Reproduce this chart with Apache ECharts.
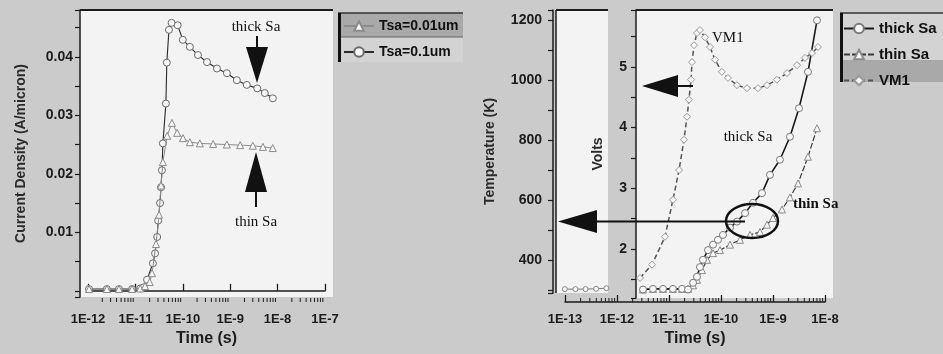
<!DOCTYPE html>
<html><head><meta charset="utf-8">
<script src="https://cdn.jsdelivr.net/npm/echarts@6/dist/echarts.min.js"></script>
<style>html,body{margin:0;padding:0;background:#cbcbcb;}#c{width:943px;height:354px;}</style>
</head><body><div id="c"></div>
<script>
// ---------- Panel 1: current density vs time ----------
const p1ThickT = [1.05e-12, 2.5e-12, 4.5e-12, 8.5e-12, 1.26e-11, 1.5e-11, 1.76e-11, 2.34e-11, 2.6e-11, 2.88e-11, 3.02e-11, 3.31e-11, 3.47e-11, 3.63e-11, 3.8e-11, 4.4e-11, 4.6e-11, 5.1e-11, 5.8e-11, 7.8e-11, 1.0e-10, 1.41e-10, 2.09e-10, 3.24e-10, 5.25e-10, 8.51e-10, 1.38e-9, 2.24e-9, 3.72e-9, 5.37e-9, 7.94e-9];
const p1ThickJ = [0.0003, 0.0003, 0.0003, 0.0003, 0.0004, 0.0006, 0.0019, 0.0047, 0.0064, 0.0092, 0.0120, 0.0150, 0.0177, 0.0206, 0.0252, 0.0320, 0.0390, 0.0446, 0.0458, 0.0454, 0.0429, 0.0417, 0.0403, 0.0391, 0.0380, 0.0372, 0.0360, 0.0352, 0.0346, 0.0338, 0.0329];
const p1ThinT = [1.05e-12, 2.5e-12, 4.5e-12, 8.5e-12, 1.26e-11, 1.6e-11, 2.0e-11, 2.24e-11, 2.72e-11, 3.16e-11, 3.47e-11, 3.8e-11, 4.68e-11, 5.9e-11, 7.6e-11, 1.01e-10, 1.41e-10, 2.29e-10, 4.37e-10, 8.5e-10, 1.62e-9, 3.0e-9, 4.9e-9, 7.9e-9];
const p1ThinJ = [0.0003, 0.0003, 0.0003, 0.0003, 0.0004, 0.0008, 0.0015, 0.0030, 0.0080, 0.0130, 0.0180, 0.0220, 0.0265, 0.0287, 0.0270, 0.0261, 0.0254, 0.0252, 0.0251, 0.0250, 0.0249, 0.0248, 0.0246, 0.0244];

// ---------- Panel 2: temperature / volts vs time ----------
const tempT = [1.0e-13, 1.6e-13, 2.5e-13, 4.0e-13, 6.3e-13, 1.0e-12];
const tempK = [303, 303, 303, 304, 306, 310];
const thickT = [3.16e-12, 4.92e-12, 7.67e-12, 1.19e-11, 1.78e-11, 2.32e-11, 2.9e-11, 3.45e-11, 3.94e-11, 4.5e-11, 5.62e-11, 7.02e-11, 8.75e-11, 1.09e-10, 1.49e-10, 2.03e-10, 2.9e-10, 4.12e-10, 6.14e-10, 8.75e-10, 1.36e-9, 2.12e-9, 3.16e-9, 4.71e-9, 7.02e-9];
const thickV = [1.33, 1.34, 1.34, 1.34, 1.34, 1.33, 1.44, 1.54, 1.70, 1.82, 1.98, 2.07, 2.15, 2.23, 2.35, 2.45, 2.59, 2.76, 2.92, 3.22, 3.47, 3.85, 4.32, 4.92, 5.77];
const thinT = [3.16e-12, 4.92e-12, 7.67e-12, 1.19e-11, 1.78e-11, 2.32e-11, 2.9e-11, 3.45e-11, 4.31e-11, 5.38e-11, 7.02e-11, 9.57e-11, 1.49e-10, 2.32e-10, 3.61e-10, 5.62e-10, 7.67e-10, 1.0e-9, 1.49e-9, 2.12e-9, 3.03e-9, 4.71e-9, 7.02e-9];
const thinV = [1.33, 1.34, 1.34, 1.34, 1.34, 1.34, 1.40, 1.49, 1.65, 1.82, 1.93, 1.98, 2.07, 2.15, 2.23, 2.28, 2.40, 2.51, 2.65, 2.85, 3.08, 3.52, 3.99];
const vm1T = [2.77e-12, 4.71e-12, 8.37e-12, 1.19e-11, 1.56e-11, 1.94e-11, 2.22e-11, 2.42e-11, 2.65e-11, 2.77e-11, 3.03e-11, 3.45e-11, 3.94e-11, 4.92e-11, 6.14e-11, 7.67e-11, 1.04e-10, 1.36e-10, 2.03e-10, 3.16e-10, 5.15e-10, 7.67e-10, 1.19e-9, 1.86e-9, 2.9e-9, 4.12e-9, 5.62e-9, 7.33e-9];
const vm1V = [1.52, 1.74, 2.20, 2.81, 3.30, 3.80, 4.18, 4.46, 4.79, 5.08, 5.36, 5.56, 5.61, 5.49, 5.33, 5.12, 4.92, 4.82, 4.70, 4.65, 4.65, 4.70, 4.79, 4.90, 5.03, 5.15, 5.23, 5.33];

const legend1 = ['Tsa=0.01um', 'Tsa=0.1um'];
const legend2 = ['thick Sa', 'thin Sa', 'VM1'];
const p1Decades = [-12, -11, -10, -9, -8];
const p2Decades = [-13, -12, -11, -10, -9];
const minorMultipliers = [2, 3, 4, 5, 6, 7, 8, 9];

const pair = (xs, ys) => xs.map((x, i) => [x, ys[i]]);
const minorTicks = decs => decs.flatMap(d => minorMultipliers.map(m => [m * Math.pow(10, d)]));
const F = '"Liberation Sans", Arial, sans-serif';
const S = '"Liberation Serif", "Times New Roman", serif';
const expLabel = v => '1E' + Math.round(Math.log10(v));
const INK = '#1c1c1c';

const chart = echarts.init(document.getElementById('c'));

const timeAxis = (grid, min, max, offset, gap) => ({
  type: 'log', logBase: 10, gridIndex: grid, min: min, max: max, offset: offset,
  axisLine: { lineStyle: { color: INK, width: 1.5 } },
  axisTick: { inside: true, length: 7, lineStyle: { color: INK, width: 1.3 } },
  minorTick: { show: false },
  axisLabel: { formatter: expLabel, fontFamily: F, fontWeight: 'bold', fontSize: 13, color: INK, margin: 11 },
  splitLine: { show: false },
  name: 'Time (s)', nameLocation: 'middle', nameGap: gap,
  nameTextStyle: { fontFamily: F, fontWeight: 'bold', fontSize: 16, color: INK }
});
const valAxis = (grid, min, max, split, offset, fmt, name, gap, margin) => ({
  type: 'value', gridIndex: grid, min: min, max: max, splitNumber: split, offset: offset,
  axisLine: { show: true, lineStyle: { color: INK, width: 1.5 } },
  axisTick: { show: true, length: 5, lineStyle: { color: INK, width: 1.2 } },
  axisLabel: { formatter: fmt, fontFamily: F, fontWeight: 'bold', fontSize: 14, color: INK, margin: margin },
  splitLine: { show: false },
  name: name, nameLocation: 'middle', nameGap: gap,
  nameTextStyle: { fontFamily: F, fontWeight: 'bold', fontSize: 14, color: '#2a2a2a' }
});
const isMult = (v, m) => Math.abs(v / m - Math.round(v / m)) < 1e-6;

// log-spaced minor ticks drawn through the axis scale
const minorTickSeries = (xi, yi, yBase, offset) => ({
  type: 'custom', xAxisIndex: xi, yAxisIndex: yi, data: minorTicks(xi === 0 ? p1Decades : p2Decades),
  clip: false, silent: true, z: 5,
  renderItem: (params, api) => {
    const p = api.coord([api.value(0), yBase]);
    const y = p[1] + offset;
    return { type: 'line', shape: { x1: p[0], y1: y, x2: p[0], y2: y - 4 }, style: { stroke: INK, lineWidth: 1 } };
  }
});

const option = {
  animation: false,
  backgroundColor: '#cbcbcb',
  grid: [
    { left: 88, right: 618, top: 10, bottom: 57 },
    { left: 556, right: 335, top: 10, bottom: 61 },
    { left: 636, right: 110, top: 10, bottom: 56 },
    { left: 565, right: 118, top: 10, bottom: 52 }
  ],
  xAxis: [
    timeAxis(0, 1e-12, 1e-7, 5, 27),
    { type: 'log', gridIndex: 1, min: Math.pow(10, -13.17), max: Math.pow(10, -12.17), show: false },
    { type: 'log', gridIndex: 2, min: Math.pow(10, -11.635), max: Math.pow(10, -7.846), show: false },
    timeAxis(3, 1e-13, 1e-8, 0, 29)
  ],
  yAxis: [
    valAxis(0, -0.00106, 0.048, 10, 8, v => (v > 0.005 && isMult(v, 0.01)) ? v.toFixed(2) : '', 'Current Density (A/micron)', 52, 7),
    valAxis(1, 290, 1233, 9, 3, v => (v >= 400 && isMult(v, 200)) ? String(Math.round(v)) : '', 'Temperature (K)', 56, 11),
    valAxis(2, 1.19, 5.94, 10, 0, v => (v >= 1.9 && isMult(v, 1)) ? String(Math.round(v)) : '', 'Volts', 31, 9),
    { type: 'value', gridIndex: 3, min: 0, max: 1, show: false }
  ],
  legend: [
    { data: legend1, orient: 'vertical', left: 343, top: 19, itemWidth: 30, itemHeight: 12, itemGap: 12, padding: 0, selectedMode: false,
      textStyle: { fontFamily: F, fontWeight: 'bold', fontSize: 14, color: '#111' } },
    { data: legend2, orient: 'vertical', left: 843, top: 21, itemWidth: 30, itemHeight: 12, itemGap: 11, padding: 0, selectedMode: false,
      textStyle: { fontFamily: F, fontWeight: 'bold', fontSize: 15, color: '#111' } }
  ],
  series: [
    { name: 'Tsa=0.1um', type: 'line', xAxisIndex: 0, yAxisIndex: 0, data: pair(p1ThickT, p1ThickJ),
      symbol: 'circle', symbolSize: 7, lineStyle: { color: '#2a2a2a', width: 1.1 },
      itemStyle: { color: '#f6f6f6', borderColor: '#6a6a6a', borderWidth: 1 }, z: 3 },
    { name: 'Tsa=0.01um', type: 'line', xAxisIndex: 0, yAxisIndex: 0, data: pair(p1ThinT, p1ThinJ),
      symbol: 'triangle', symbolSize: 7, lineStyle: { color: '#8c8c8c', width: 1 },
      itemStyle: { color: '#f6f6f6', borderColor: '#8c8c8c', borderWidth: 1 }, z: 4 },
    { name: 'Temperature', type: 'line', xAxisIndex: 1, yAxisIndex: 1, data: pair(tempT, tempK),
      symbol: 'circle', symbolSize: 5, lineStyle: { color: '#777', width: 1 },
      itemStyle: { color: '#f6f6f6', borderColor: '#888', borderWidth: 1 } },
    { name: 'VM1', type: 'line', xAxisIndex: 2, yAxisIndex: 2, data: pair(vm1T, vm1V),
      symbol: 'diamond', symbolSize: 7, lineStyle: { color: '#555', width: 1.5, type: [5, 3] },
      itemStyle: { color: '#f6f6f6', borderColor: '#9a9a9a', borderWidth: 1 } },
    { name: 'thin Sa', type: 'line', xAxisIndex: 2, yAxisIndex: 2, data: pair(thinT, thinV),
      symbol: 'triangle', symbolSize: 7, lineStyle: { color: '#3a3a3a', width: 1.2, type: [6, 2] },
      itemStyle: { color: '#f6f6f6', borderColor: '#8c8c8c', borderWidth: 1 } },
    { name: 'thick Sa', type: 'line', xAxisIndex: 2, yAxisIndex: 2, data: pair(thickT, thickV),
      symbol: 'circle', symbolSize: 7, lineStyle: { color: '#1a1a1a', width: 1.6 },
      itemStyle: { color: '#f6f6f6', borderColor: '#7a7a7a', borderWidth: 1 } },
    minorTickSeries(0, 0, -0.00106, 5),
    minorTickSeries(3, 3, 0, 0)
  ],
  graphic: [
    // plot backgrounds
    { type: 'rect', z: -10, shape: { x: 80, y: 10, width: 253, height: 287 }, style: { fill: '#f3f3f3' } },
    { type: 'rect', z: -10, shape: { x: 556, y: 10, width: 52, height: 283 }, style: { fill: '#f3f3f3' } },
    { type: 'rect', z: -10, shape: { x: 636, y: 10, width: 197, height: 288 }, style: { fill: '#f3f3f3' } },
    // frame lines
    { type: 'line', z: 5, shape: { x1: 80, y1: 10, x2: 333, y2: 10 }, style: { stroke: INK, lineWidth: 2 } },
    { type: 'line', z: 5, shape: { x1: 556, y1: 10, x2: 608, y2: 10 }, style: { stroke: INK, lineWidth: 2 } },
    { type: 'line', z: 5, shape: { x1: 556, y1: 10, x2: 556, y2: 293 }, style: { stroke: INK, lineWidth: 1.5 } },
    { type: 'line', z: 5, shape: { x1: 636, y1: 10, x2: 833, y2: 10 }, style: { stroke: INK, lineWidth: 2 } },
    // legend boxes
    { type: 'rect', z: -10, shape: { x: 338, y: 13, width: 125, height: 24 }, style: { fill: '#a9a9a9' } },
    { type: 'rect', z: -10, shape: { x: 338, y: 37, width: 125, height: 25 }, style: { fill: '#d3d3d3' } },
    { type: 'line', z: 5, shape: { x1: 338, y1: 13, x2: 463, y2: 13 }, style: { stroke: '#333', lineWidth: 1.5 } },
    { type: 'line', z: 5, shape: { x1: 338, y1: 37, x2: 463, y2: 37 }, style: { stroke: '#666', lineWidth: 1 } },
    { type: 'line', z: 5, shape: { x1: 339.5, y1: 13, x2: 339.5, y2: 62 }, style: { stroke: '#111', lineWidth: 3 } },
    { type: 'rect', z: -10, shape: { x: 840, y: 13, width: 103, height: 47 }, style: { fill: '#d3d3d3' } },
    { type: 'rect', z: -10, shape: { x: 840, y: 60, width: 103, height: 22 }, style: { fill: '#a9a9a9' } },
    { type: 'line', z: 5, shape: { x1: 840, y1: 13, x2: 943, y2: 13 }, style: { stroke: '#333', lineWidth: 1.5 } },
    { type: 'line', z: 5, shape: { x1: 841.5, y1: 13, x2: 841.5, y2: 82 }, style: { stroke: '#111', lineWidth: 3 } },
    // panel 1 annotations
    { type: 'text', z: 10, style: { x: 256, y: 27, text: 'thick Sa', font: '15px ' + S, fill: '#111', textAlign: 'center', textVerticalAlign: 'middle' } },
    { type: 'line', z: 10, shape: { x1: 257, y1: 36, x2: 257, y2: 48 }, style: { stroke: '#111', lineWidth: 2 } },
    { type: 'polygon', z: 10, shape: { points: [[246, 47], [268, 47], [257, 83]] }, style: { fill: '#111' } },
    { type: 'text', z: 10, style: { x: 256, y: 222, text: 'thin Sa', font: '15px ' + S, fill: '#111', textAlign: 'center', textVerticalAlign: 'middle' } },
    { type: 'line', z: 10, shape: { x1: 256, y1: 191, x2: 256, y2: 207 }, style: { stroke: '#111', lineWidth: 2 } },
    { type: 'polygon', z: 10, shape: { points: [[245, 192], [267, 192], [256, 152]] }, style: { fill: '#111' } },
    // panel 2 annotations
    { type: 'text', z: 10, style: { x: 712, y: 38, text: 'VM1', font: '15px ' + S, fill: '#111', textVerticalAlign: 'middle' } },
    { type: 'line', z: 10, shape: { x1: 677, y1: 86, x2: 693, y2: 86 }, style: { stroke: '#111', lineWidth: 2 } },
    { type: 'polygon', z: 10, shape: { points: [[678, 75], [678, 97], [642, 86]] }, style: { fill: '#111' } },
    { type: 'text', z: 10, style: { x: 748, y: 137, text: 'thick Sa', font: '15px ' + S, fill: '#111', textAlign: 'center', textVerticalAlign: 'middle' } },
    { type: 'text', z: 10, style: { x: 793, y: 204, text: 'thin Sa', font: 'bold 15px ' + S, fill: '#111', textVerticalAlign: 'middle' } },
    { type: 'ellipse', z: 10, shape: { cx: 752, cy: 221, rx: 26, ry: 17 }, style: { fill: 'none', stroke: '#111', lineWidth: 2.5 } },
    { type: 'line', z: 10, shape: { x1: 596, y1: 221.5, x2: 745, y2: 221.5 }, style: { stroke: '#111', lineWidth: 2 } },
    { type: 'polygon', z: 10, shape: { points: [[597, 210], [597, 233], [558, 221.5]] }, style: { fill: '#111' } }
  ]
};
chart.setOption(option);
</script></body></html>
